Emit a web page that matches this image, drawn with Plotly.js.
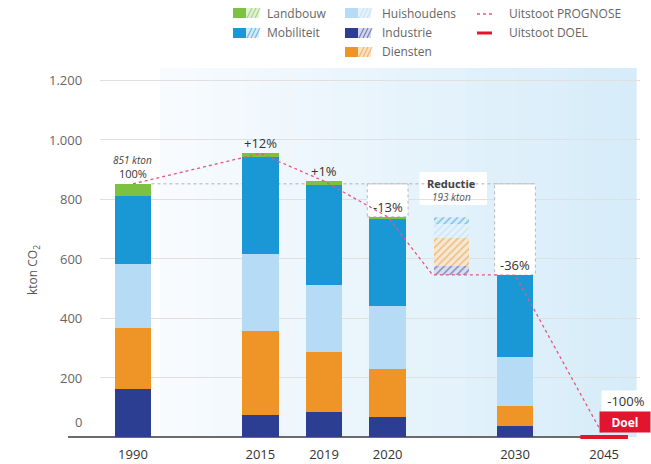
<!DOCTYPE html>
<html><head><meta charset="utf-8">
<script src="https://cdn.plot.ly/plotly-3.0.1.min.js"></script>
<style>html,body{margin:0;padding:0;background:#fff}#chart{width:651px;height:464px}</style>
</head><body><div id="chart"></div>
<script>
// ---- data ----
const years       = ['1990','2015','2019','2020','2030','2045'];
const industrie   = [160, 74, 84, 67, 37, 0];
const diensten    = [208, 282, 202, 162, 67, 0];
const huishoudens = [212, 259, 225, 211, 165, 0];
const mobiliteit  = [230, 326, 336, 293, 274, 0];
const landbouw    = [41, 12, 13, 7, 2, 0];
const changeLabels = ['100%','+12%','+1%','-13%','-36%','-100%'];
const baseLabel = '851 kton';
const reductieNames  = ['Industrie','Diensten','Huishoudens','Mobiliteit','Landbouw'];
const reductieValues = [30, 95, 46, 19, 3];
const reductieTitle = 'Reductie';
const reductieLabel = '193 kton';
const doelValue = [0];
const yTickVals = [0, 200, 400, 600, 800, 1000, 1200];
const yTickText = ['0','200','400','600','800','1.000','1.200'];
const legendNames = ['Landbouw','Mobiliteit','Huishoudens','Industrie','Diensten'];
const lineNames = ['Uitstoot PROGNOSE','Uitstoot DOEL'];

// ---- layout helpers ----
const W=651,H=464;
const px=x=>x/W, py=y=>1-y/H;
const slot={'1990':0,'2015':2,'2019':3,'2020':4,'2030':6,'2045':7.4};
const redSlot=5, BW=0.58, RW=0.55;
const FONT='"Open Sans", "Noto Sans", sans-serif';

const series=[
 {name:'Industrie',   vals:industrie,   color:'#2c3e91', tint:'#d3d8ee'},
 {name:'Diensten',    vals:diensten,    color:'#ef9427', tint:'#fbe3c4'},
 {name:'Huishoudens', vals:huishoudens, color:'#b5dcf4', tint:'#e5f2fb'},
 {name:'Mobiliteit',  vals:mobiliteit,  color:'#1a98d5', tint:'#d5ebf7'},
 {name:'Landbouw',    vals:landbouw,    color:'#7cc142', tint:'#e2f1d5'}
];
const totals = years.map((_,i)=>series.reduce((s,c)=>s+c.vals[i],0));
const barYears = years.slice(0,5);
const xs = barYears.map(y=>slot[y]);
const i2020=years.indexOf('2020'), i2030=years.indexOf('2030');

const traces=[];
traces.push({type:'bar',x:[redSlot],y:[totals[i2030]],width:RW,marker:{color:'rgba(0,0,0,0)'},hoverinfo:'skip',showlegend:false});
series.forEach(c=>{
  traces.push({type:'bar',name:c.name,x:xs,y:c.vals.slice(0,5),width:BW,marker:{color:c.color,line:{width:0}},showlegend:false});
});
series.forEach(c=>{
  const k=reductieNames.indexOf(c.name);
  traces.push({type:'bar',name:c.name,x:[redSlot],y:[reductieValues[k]],width:RW,showlegend:false,
    marker:{color:c.tint,opacity:0.75,line:{width:0},pattern:{shape:'/',fgcolor:c.color,fgopacity:0.7,size:5,solidity:0.3,fillmode:'overlay'}}});
});
// prognose line
const progX=[slot['1990'],slot['2015'],slot['2019'],slot['2020'],redSlot-RW/2-0.02,slot['2030'],slot['2045']];
const progY=[totals[0],totals[1],totals[2],totals[3],totals[i2030],totals[i2030],doelValue[0]];
traces.push({type:'scatter',mode:'lines',x:progX,y:progY,line:{color:'#e8577a',width:1.3,dash:'3px,3px'},cliponaxis:false,showlegend:false,hoverinfo:'skip'});
traces.push({type:'scatter',mode:'markers',x:[slot['2045']],y:doelValue,marker:{symbol:'line-ew',size:34,line:{color:'#e3142d',width:4}},cliponaxis:false,showlegend:false});

// ---- shapes ----
const shapes=[];
// gradient background
const N=28, gx0=160, gx1=636;
for(let i=0;i<N;i++){
  const t=i/(N-1);
  const r=Math.round(248+(214-248)*t), g=Math.round(251+(236-251)*t), b=Math.round(254+(249-254)*t);
  shapes.push({type:'rect',xref:'paper',yref:'paper',x0:px(gx0+(gx1-gx0)*i/N),x1:px(gx0+(gx1-gx0)*(i+1)/N)+0.001,y0:py(437),y1:py(68),
    fillcolor:`rgb(${r},${g},${b})`,line:{width:0},layer:'below'});
}
// ghost boxes
[i2020,i2030].forEach(i=>{
  shapes.push({type:'rect',xref:'x',yref:'y',x0:slot[years[i]]-BW/2-0.03,x1:slot[years[i]]+BW/2+0.03,y0:totals[i],y1:totals[0],
    fillcolor:'#ffffff',line:{color:'#b8b8b8',width:1,dash:'dot'},layer:'between'});
});
// reductie label box
shapes.push({type:'rect',xref:'x',yref:'paper',x0:redSlot-0.5,x1:redSlot+0.56,y0:py(205),y1:py(172),fillcolor:'#ffffff',line:{width:0},layer:'between'});
// 851 reference dotted line
shapes.push({type:'line',xref:'x',yref:'y',x0:slot['1990']+BW/2,x1:slot['2030']+BW/2+0.03,y0:totals[0],y1:totals[0],line:{color:'#b0b0b0',width:1,dash:'dot'},layer:'between'});
// baseline
shapes.push({type:'line',xref:'paper',yref:'paper',x0:px(68),x1:px(625),y0:py(437),y1:py(437),line:{color:'#6b6b6b',width:2},layer:'below'});

// legend swatches
const legendPos=[[233,13],[233,33],[345,13],[345,33],[345,52]];
const annotations=[];
legendNames.forEach((n,i)=>{
  const c=series.find(s=>s.name===n);
  const [x,y]=legendPos[i];
  shapes.push({type:'rect',xref:'paper',yref:'paper',x0:px(x),x1:px(x+13),y0:py(y+5),y1:py(y-5),fillcolor:c.color,line:{width:0}});
  shapes.push({type:'rect',xref:'paper',yref:'paper',x0:px(x+13),x1:px(x+26),y0:py(y+5),y1:py(y-5),fillcolor:c.tint,line:{width:0}});
  for(let k=0;k<3;k++){
    const a=x+14+k*4;
    shapes.push({type:'line',xref:'paper',yref:'paper',x0:px(a),x1:px(a+5),y0:py(y+5),y1:py(y-5),line:{color:c.color,width:1.2},opacity:0.55});
  }
  annotations.push({xref:'paper',yref:'paper',x:px(i<2?265:380),y:py(y),xanchor:'left',yanchor:'middle',showarrow:false,text:n,font:{family:FONT,size:12,color:'#666'}});
});
shapes.push({type:'line',xref:'paper',yref:'paper',x0:px(477),x1:px(492),y0:py(14),y1:py(14),line:{color:'#e8577a',width:1.3,dash:'3px,3px'}});
shapes.push({type:'line',xref:'paper',yref:'paper',x0:px(477),x1:px(492),y0:py(33),y1:py(33),line:{color:'#e3142d',width:3}});
lineNames.forEach((n,i)=>{
  annotations.push({xref:'paper',yref:'paper',x:px(507),y:py(i===0?13:33),xanchor:'left',yanchor:'middle',showarrow:false,text:n,font:{family:FONT,size:12,color:'#666'}});
});

// y tick labels
yTickVals.forEach((v,i)=>{
  annotations.push({xref:'paper',yref:'y',x:px(84),y:v,xanchor:'right',yanchor:'middle',yshift:v===0?15:0,showarrow:false,text:yTickText[i],font:{family:FONT,size:13,color:'#666'}});
});
annotations.push({xref:'paper',yref:'paper',x:px(22),y:py(270),textangle:-90,showarrow:false,text:'kton CO<sub>2</sub>',font:{family:FONT,size:12,color:'#555'}});

// change labels
for(let i=0;i<5;i++){
  const x=slot[years[i]];
  if(i===0){
    annotations.push({xref:'x',yref:'y',x:x,y:totals[i],yanchor:'bottom',yshift:1,showarrow:false,text:changeLabels[i],font:{family:FONT,size:11,color:'#333'}});
    annotations.push({xref:'x',yref:'y',x:x,y:totals[i],yanchor:'bottom',yshift:15,showarrow:false,text:'<i>'+baseLabel+'</i>',font:{family:FONT,size:10,color:'#444'}});
  } else {
    annotations.push({xref:'x',yref:'y',x:x,y:totals[i],yanchor:'bottom',yshift:0,showarrow:false,text:changeLabels[i],
      bgcolor:i===4?'#ffffff':'rgba(0,0,0,0)',borderpad:0,font:{family:FONT,size:13,color:'#333'}});
  }
}
annotations.push({xref:'paper',yref:'paper',x:1,y:py(401),xanchor:'right',yanchor:'middle',width:46,showarrow:false,text:changeLabels[5],bgcolor:'#ffffff',font:{family:FONT,size:13,color:'#333'}});
annotations.push({xref:'paper',yref:'paper',x:1,y:py(422),xanchor:'right',yanchor:'middle',width:46,height:16,borderpad:2,showarrow:false,text:'<b>Doel</b>',bgcolor:'#e3142d',font:{family:FONT,size:12,color:'#ffffff'}});
annotations.push({xref:'x',yref:'paper',x:redSlot,y:py(183),yanchor:'middle',borderpad:0,showarrow:false,text:'<b>'+reductieTitle+'</b>',font:{family:FONT,size:11,color:'#444'}});
annotations.push({xref:'x',yref:'paper',x:redSlot,y:py(197),yanchor:'middle',borderpad:0,showarrow:false,text:'<i>'+reductieLabel+'</i>',font:{family:FONT,size:10,color:'#555'}});

const layout={
  width:W,height:H,margin:{l:0,r:0,t:0,b:0},
  paper_bgcolor:'#ffffff',plot_bgcolor:'rgba(0,0,0,0)',
  barmode:'stack',bargap:0,showlegend:false,
  font:{family:FONT},
  xaxis:{domain:[px(100),px(640)],range:[-0.518,7.963],tickvals:years.map(y=>slot[y]),ticktext:years,
    showgrid:false,zeroline:false,showline:false,ticks:'',ticklabelstandoff:8,tickfont:{family:FONT,size:13,color:'#333'},fixedrange:true},
  yaxis:{domain:[1-437/H,1-66/H],range:[0,(437-66)/0.2975],tickvals:yTickVals.slice(1),showticklabels:false,
    showgrid:true,gridcolor:'#e0e0e0',gridwidth:1,zeroline:false,showline:false,ticks:'',fixedrange:true},
  shapes:shapes,annotations:annotations
};
Plotly.newPlot('chart',traces,layout,{displayModeBar:false,staticPlot:true});
</script></body></html>
